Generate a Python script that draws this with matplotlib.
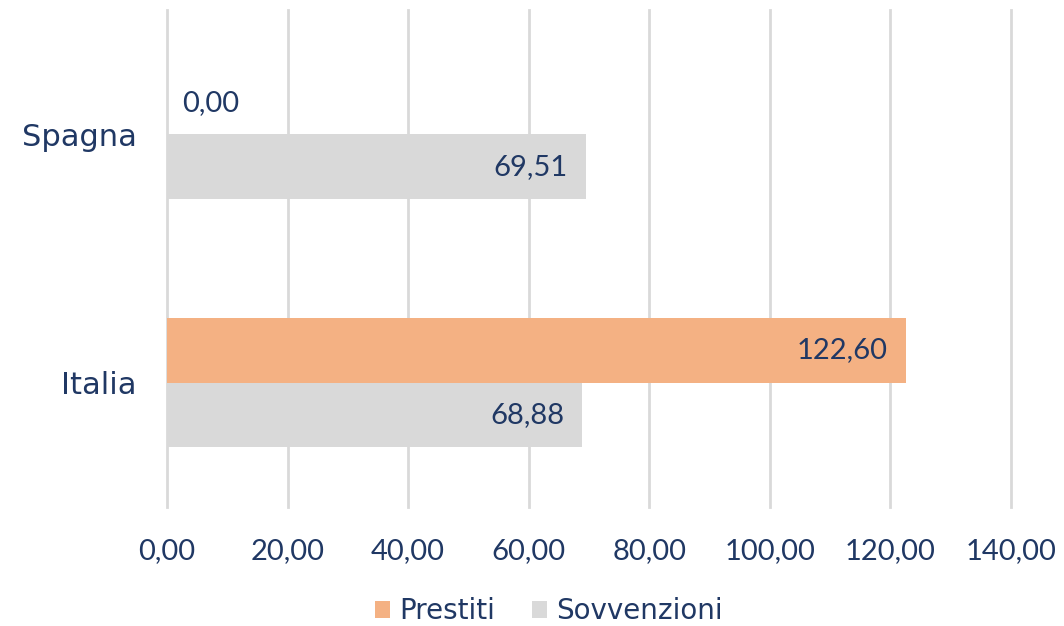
import matplotlib
matplotlib.use('Agg')
import matplotlib.pyplot as plt
import numpy as np

plt.rcParams['font.family'] = ['Lato', 'DejaVu Sans']

categories = ['Italia', 'Spagna']
prestiti = [122.60, 0.00]
sovvenzioni = [68.88, 69.51]
xticks = [0, 20, 40, 60, 80, 100, 120, 140]

TEXT = '#203864'
ORANGE = '#F4B183'
GREY = '#D9D9D9'
NUM_FONT = 21
WORD_FONT = ['DejaVu Sans']


def fmt(v):
    return '{:.2f}'.format(v).replace('.', ',')


fig = plt.figure(figsize=(10.64, 6.26), dpi=100)
ax = fig.add_axes([0.157, 0.19, 0.793, 0.794])

y = np.arange(len(categories))
h = 0.26
b1 = ax.barh(y + h / 2, prestiti, height=h, color=ORANGE, label='Prestiti', zorder=3)
b2 = ax.barh(y - h / 2, sovvenzioni, height=h, color=GREY, label='Sovvenzioni', zorder=3)

for bars, vals in ((b1, prestiti), (b2, sovvenzioni)):
    for bar, v in zip(bars, vals):
        cy = bar.get_y() + bar.get_height() / 2
        if v > 10:
            ax.annotate(fmt(v), (v, cy), xytext=(-13, 0), textcoords='offset points',
                        ha='right', va='center', fontsize=NUM_FONT, color=TEXT, zorder=4)
        else:
            ax.annotate(fmt(v), (v, cy), xytext=(11, -1), textcoords='offset points',
                        ha='left', va='center', fontsize=NUM_FONT, color=TEXT, zorder=4)

ax.set_xlim(0, 140)
ax.set_ylim(-0.5, 1.5)
ax.set_xticks(xticks)
ax.set_xticklabels([fmt(t) for t in xticks], fontsize=NUM_FONT, color=TEXT)
ax.set_yticks(y)
ax.set_yticklabels(categories, fontsize=22, color=TEXT, family=WORD_FONT)
ax.tick_params(axis='x', length=0, pad=22)
ax.tick_params(axis='y', length=0, pad=22)
ax.grid(axis='x', color=GREY, linewidth=2, zorder=0)
for line in ax.get_xgridlines():
    line.set_clip_on(False)
for s in ax.spines.values():
    s.set_visible(False)

leg = ax.legend(loc='center', bbox_to_anchor=(0.4526, -0.21), ncol=2, frameon=False,
                prop={'family': WORD_FONT, 'size': 20}, handlelength=0.55, handleheight=0.55,
                columnspacing=1.3, handletextpad=0.35)
for t in leg.get_texts():
    t.set_color(TEXT)

fig.savefig('out.png', dpi=100)
